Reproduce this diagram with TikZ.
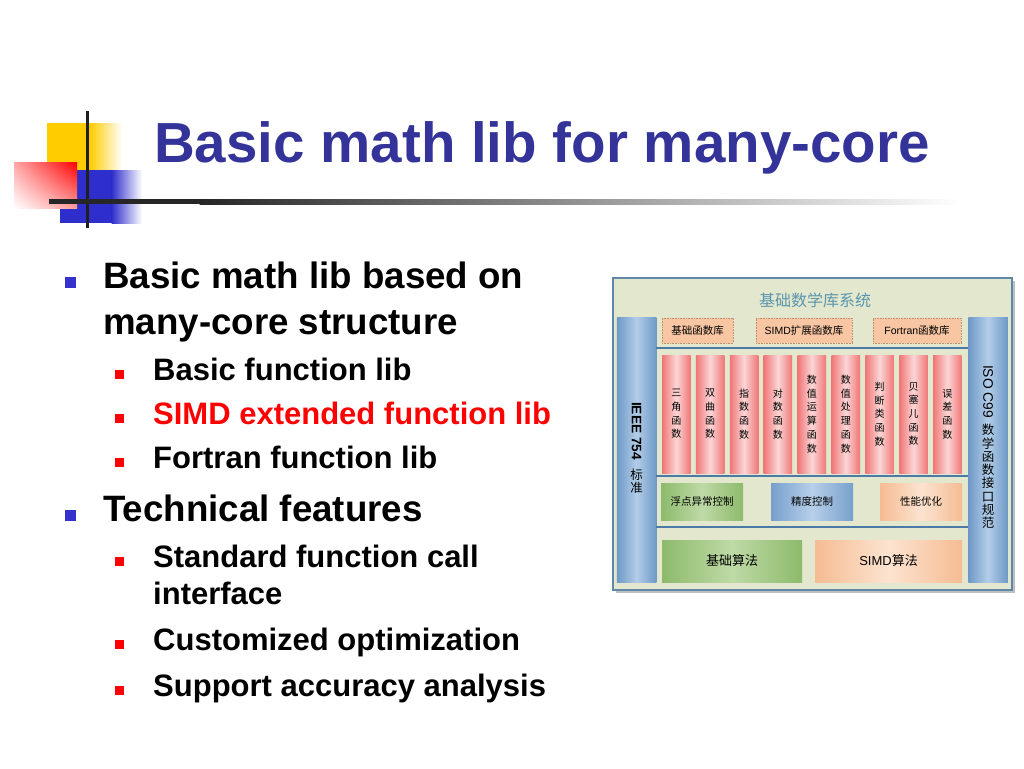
\documentclass[tikz,border=0pt]{standalone}
\usepackage{fontspec}
\setmainfont{Liberation Sans}
\newfontfamily\cjk{Noto Sans CJK SC}
\usetikzlibrary{positioning,shadings}
\definecolor{titleblue}{HTML}{333399}
\definecolor{bulblue}{HTML}{3333CC}
\definecolor{logoyel}{HTML}{FFCC00}
\definecolor{logoblue}{HTML}{2E2ECC}
\definecolor{framefill}{HTML}{E3E7CD}
\definecolor{framedraw}{HTML}{5F87A8}
\definecolor{barblue}{HTML}{6E99C6}
\definecolor{barlight}{HTML}{B2CDE8}
\definecolor{sepblue}{HTML}{4B7AA8}
\definecolor{topor}{HTML}{F8C6A3}
\definecolor{topordraw}{HTML}{C09070}
\definecolor{redcolA}{HTML}{F07676}
\definecolor{redcolB}{HTML}{FBD6D6}
\definecolor{greenA}{HTML}{8DBA6C}
\definecolor{greenB}{HTML}{BEDAA6}
\definecolor{blueA}{HTML}{78A0CD}
\definecolor{blueB}{HTML}{B7CFE9}
\definecolor{orA}{HTML}{F5BC93}
\definecolor{orB}{HTML}{FCE3D0}
\definecolor{diagtitle}{HTML}{5A96AE}
\newcommand\pxf[2]{\fontsize{#1}{#2}\selectfont}
\begin{document}
\begin{tikzpicture}[x=1pt,y=-1pt,
  txtA/.style={anchor=base west,inner sep=0pt,font=\pxf{36.7}{44}\bfseries},
  txtB/.style={anchor=base west,inner sep=0pt,font=\pxf{31}{37}\bfseries},
  bulA/.style={fill=bulblue,minimum size=11pt,inner sep=0pt},
  bulB/.style={fill=red,minimum size=9pt,inner sep=0pt},
  bar/.style={left color=barblue,right color=barblue,middle color=barlight,minimum width=39.5pt,minimum height=265pt,inner sep=0pt},
  topbox/.style={fill=topor,draw=topordraw,densely dotted,line width=0.6pt,minimum height=25pt,inner sep=0pt,font=\pxf{10.5}{12}},
  redcol/.style={left color=redcolA,right color=redcolA,middle color=redcolB,minimum width=28.5pt,minimum height=118pt,inner sep=0pt,align=center,font=\cjk\pxf{10}{13.7}},
  greenbox/.style={left color=greenA,right color=greenA,middle color=greenB,inner sep=0pt},
  bluebox/.style={left color=blueA,right color=blueA,middle color=blueB,inner sep=0pt},
  orbox/.style={left color=orA,right color=orA,middle color=orB,inner sep=0pt},
  midrow/.style={minimum width=82pt,minimum height=37pt,font=\cjk\pxf{10.5}{12}},
  botrow/.style={minimum height=42pt,font=\pxf{13}{15}},
  sep/.style={draw=sepblue,line width=2pt},
  vstack/.style={align=center,inner sep=0pt,font=\cjk\pxf{12.5}{13.3}}
]
\useasboundingbox[fill=white] (0,0) rectangle (1024,768);

% ---------- logo ----------
\fill[logoyel] (47,123) rectangle (90,170);
\shade[left color=logoyel,right color=white] (89.5,123) rectangle (122,170);
\fill[logoblue] (60,170) rectangle (112,223);
\shade[left color=logoblue,right color=white] (111.5,170) rectangle (142,223);
\shade[upper right=red,upper left=red!35,lower right=red!40,lower left=white] (14,162) rectangle (77,208);
\draw[black!88,line width=3pt] (87,111) -- (87,228);
\fill[black!85] (49,199) rectangle (200,204);
\shade[left color=black!85,right color=white] (199.5,199) rectangle (960,204);

% ---------- title ----------
\node[anchor=base west,inner sep=0pt,text=titleblue,font=\pxf{56.5}{60}\bfseries] (title) at (154,162) {Basic math lib for many-core};

% ---------- bullets ----------
\node[bulA] (ba1) at (70.5,282) {};
\node[txtA] (t1) at (103,288) {Basic math lib based on};
\node[txtA] (t1b) at (103,334) {many-core structure};
\node[bulB] (bb1) at (119.5,374) {};
\node[txtB] (t2) at (153,380) {Basic function lib};
\node[bulB] (bb2) at (119.5,418) {};
\node[txtB,text=red] (t3) at (153,424) {SIMD extended function lib};
\node[bulB] (bb3) at (119.5,462) {};
\node[txtB] (t4) at (153,468) {Fortran function lib};
\node[bulA] (ba2) at (70.5,515) {};
\node[txtA] (t5) at (103,521) {Technical features};
\node[bulB] (bb4) at (119.5,561) {};
\node[txtB] (t6) at (153,567) {Standard function call};
\node[txtB] (t6b) at (153,604) {interface};
\node[bulB] (bb5) at (119.5,644) {};
\node[txtB] (t7) at (153,650) {Customized optimization};
\node[bulB] (bb6) at (119.5,690) {};
\node[txtB] (t8) at (153,696) {Support accuracy analysis};

% ---------- diagram ----------
\fill[black!25] (616,281) rectangle (1015,593);
\draw[fill=framefill,draw=framedraw,line width=1.5pt] (613,278) rectangle (1012,590);
\node[text=diagtitle,font=\cjk\pxf{16}{18},inner sep=0pt] (dtitle) at (815,300) {基础数学库系统};

\node[bar] (lbar) at (636.5,449.5) {};
\node[bar] (rbar) at (988,449.5) {};
\node[rotate=-90,inner sep=0pt,font=\pxf{13.7}{15}\bfseries] (ieee) at (636.5,431) {IEEE 754};
\node[vstack] (ieeez) at (636.5,481.5) {标\\准};
\node[rotate=-90,inner sep=0pt,font=\pxf{13.8}{15}] (iso) at (988,391.5) {ISO C99};
\node[vstack] (isoz) at (988,476.5) {数\\学\\函\\数\\接\\口\\规\\范};

\node[topbox,minimum width=71pt] (tb1) at (697.5,330.5) {\cjk 基础函数库};
\node[topbox,minimum width=96pt] (tb2) at (804,330.5) {SIMD{\cjk 扩展函数库}};
\node[topbox,minimum width=88pt] (tb3) at (917,330.5) {Fortran{\cjk 函数库}};

\draw[sep] (656,348) -- (968,348);
\draw[sep] (656,476) -- (968,476);
\draw[sep] (656,527) -- (968,527);

\node[redcol] (c1) at (676.25,414) {三\\角\\函\\数};
\node[redcol] (c2) at (710.15,414) {双\\曲\\函\\数};
\node[redcol] (c3) at (744.05,414) {指\\数\\函\\数};
\node[redcol] (c4) at (777.95,414) {对\\数\\函\\数};
\node[redcol] (c5) at (811.85,414) {数\\值\\运\\算\\函\\数};
\node[redcol] (c6) at (845.75,414) {数\\值\\处\\理\\函\\数};
\node[redcol] (c7) at (879.65,414) {判\\断\\类\\函\\数};
\node[redcol] (c8) at (913.55,414) {贝\\塞\\儿\\函\\数};
\node[redcol] (c9) at (947.45,414) {误\\差\\函\\数};

\node[greenbox,midrow] (m1) at (702,501.5) {浮点异常控制};
\node[bluebox,midrow] (m2) at (812,501.5) {精度控制};
\node[orbox,midrow] (m3) at (921,501.5) {性能优化};

\node[greenbox,botrow,minimum width=140pt] (f1) at (732,561) {\cjk 基础算法};
\node[orbox,botrow,minimum width=147pt] (f2) at (888.5,561) {SIMD{\cjk 算法}};
\end{tikzpicture}
\end{document}
